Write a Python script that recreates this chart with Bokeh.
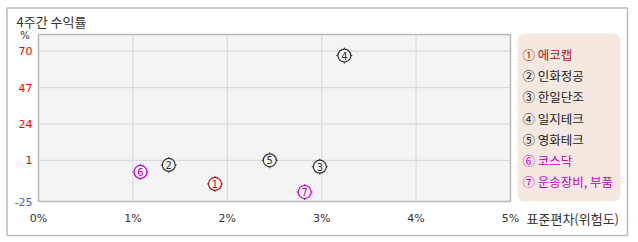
from bokeh.plotting import figure
from bokeh.models import BoxAnnotation, ColumnDataSource, Range1d
from bokeh.core.properties import value
from bokeh.embed import file_html
from bokeh.resources import INLINE

# ---- data ----
names = ["에코캡", "인화정공", "한일단조", "일지테크", "영화테크", "코스닥", "운송장비, 부품"]
marks = ["①", "②", "③", "④", "⑤", "⑥", "⑦"]
digits = ["1", "2", "3", "4", "5", "6", "7"]
risk = [1.87, 1.38, 2.98, 3.24, 2.45, 1.08, 2.82]          # 표준편차 (%)
ret = [-13.9, -1.9, -3.0, 67.2, 1.0, -6.3, -19.0]          # 4주간 수익률 (%)
colors = ["#a81c1c", "#333333", "#333333", "#333333", "#333333", "#c000c0", "#c000c0"]
legend_colors = ["#b41414", "#222222", "#222222", "#222222", "#222222", "#c400c4", "#c400c4"]
x_ticks = [0, 1, 2, 3, 4, 5]
x_tick_labels = ["0%", "1%", "2%", "3%", "4%", "5%"]
y_ticks = [70, 47, 24, 1, -25]
y_tick_labels = ["70", "47", "24", "1", "-25"]
y_tick_colors = ["#ff0000", "#ff0000", "#ff0000", "#ff0000", "#4060ff"]

X0, X1 = 0, 5
Y0, Y1 = -25, 80.5
W, H = 638, 242
# plot area in canvas pixels
PL, PR, PT, PB = 38, 510, 34, 201

kx = (PR - PL) / (X1 - X0)
ky = (PB - PT) / (Y1 - Y0)
def dx(px):
    return X0 + (px - PL) / kx
def dy(py):
    return Y1 - (py - PT) / ky

p = figure(width=W, height=H, output_backend="svg", toolbar_location=None,
           x_range=Range1d(dx(0), dx(W)), y_range=Range1d(dy(H), dy(0)),
           x_axis_type=None, y_axis_type=None,
           min_border=0, min_border_left=0, min_border_right=0,
           min_border_top=0, min_border_bottom=0)
p.background_fill_color = "white"
p.border_fill_color = "white"
p.outline_line_color = None
p.grid.visible = False

KFONT = "Noto Sans CJK KR"
NFONT = "DejaVu Sans"

# plot area background
p.add_layout(BoxAnnotation(left=X0, right=X1, bottom=Y0, top=Y1,
                           fill_color="#f4f4f4", fill_alpha=1,
                           line_color=None, level="underlay"))
# legend box
p.add_layout(BoxAnnotation(left=dx(517), right=dx(620), top=dy(33), bottom=dy(201),
                           fill_color="#f5e8e1", fill_alpha=1, line_color=None,
                           border_radius=7, level="underlay"))

# outer border
p.quad(left=[dx(6.5)], right=[dx(627)], top=[dy(7.5)], bottom=[dy(235)],
       fill_alpha=0, line_color="#bbbbbb", line_width=1.5)

# grid lines
p.segment(x0=x_ticks[1:-1], x1=x_ticks[1:-1], y0=[Y0] * 4, y1=[Y1] * 4,
          line_color="#dadada", line_width=1.2)
p.segment(x0=[X0] * 4, x1=[X1] * 4, y0=y_ticks[:4], y1=y_ticks[:4],
          line_color="#dadada", line_width=1.2)

# plot area frame
p.quad(left=[X0], right=[X1], bottom=[Y0], top=[Y1], fill_alpha=0,
       line_color="#b8b8b8", line_width=1.5)

# tick labels
p.text(x=x_ticks, y=[dy(PB + 16.5)] * len(x_ticks), text=x_tick_labels,
       text_align="center", text_baseline="middle",
       text_font=value(NFONT), text_font_size="11px", text_color="#333333")
ysrc = ColumnDataSource(dict(x=[dx(PL - 6)] * len(y_ticks), y=y_ticks,
                             t=y_tick_labels, c=y_tick_colors))
p.text(x="x", y="y", text="t", source=ysrc,
       text_align="right", text_baseline="middle",
       text_font=value(NFONT), text_font_size="11px", text_color="c")

# titles
p.text(x=[dx(16)], y=[dy(20.5)], text=["4주간 수익률"],
       text_align="left", text_baseline="middle",
       text_font=value(KFONT), text_font_size="13px", text_color="#333333")
p.text(x=[dx(24.5)], y=[dy(34.5)], text=["%"],
       text_align="center", text_baseline="middle",
       text_font=value(NFONT), text_font_size="10px", text_color="#333333")
p.text(x=[dx(526)], y=[dy(217.5)], text=["표준편차(위험도)"],
       text_align="left", text_baseline="middle",
       text_font=value(KFONT), text_font_size="13px", text_color="#333333")

# legend entries
lsrc = ColumnDataSource(dict(x=[dx(522)] * len(names),
                             y=[dy(54 + 21.2 * i) for i in range(len(names))],
                             t=[m + " " + n for m, n in zip(marks, names)],
                             c=legend_colors))
p.text(x="x", y="y", text="t", source=lsrc,
       text_align="left", text_baseline="middle",
       text_font=value(KFONT), text_font_size="12.5px", text_color="c")

# points
src = ColumnDataSource(dict(x=risk, y=ret, c=colors, d=digits))
p.scatter("x", "y", source=src, marker="cross", size=16, line_color="c", line_width=1)
p.scatter("x", "y", source=src, marker="circle", size=13, line_color="c", line_width=1.2,
          fill_color="#f4f4f4")
p.text("x", "y", text="d", source=src, text_color="c", text_align="center",
       text_baseline="middle", text_font=value(NFONT), text_font_size="10px")

open("out.html", "w").write(file_html(p, INLINE))
